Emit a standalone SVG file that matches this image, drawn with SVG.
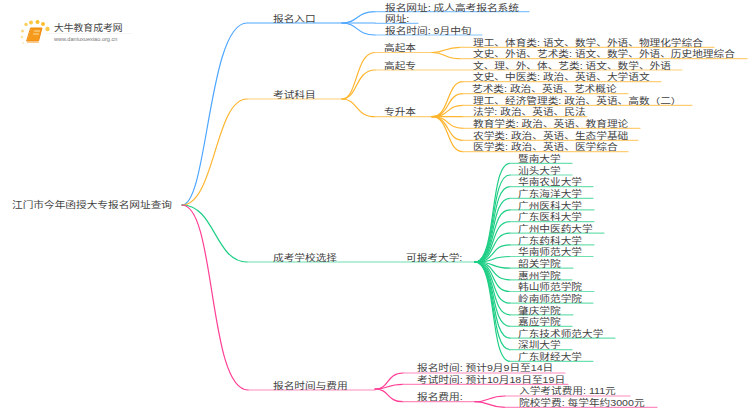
<svg xmlns="http://www.w3.org/2000/svg" width="750" height="410" viewBox="0 0 750 410">
<style>
text{font-family:"Liberation Sans","Noto Sans CJK SC",sans-serif;font-size:10.67px;fill:#3f3f3f}
path{fill:none;stroke-linecap:round;stroke-width:1.2}
.b{stroke:#4da6ff}.bl{stroke:#86c3ff}
.o{stroke:#ffb52e}.ol{stroke:#ffcf78}
.g{stroke:#1fcf86}.gl{stroke:#6fe0b0}
.p{stroke:#ff3e96}.pl{stroke:#ff8cbf}
</style>
<g id="logo">
<circle cx="23" cy="43" r="1" fill="#fdeac0"/><circle cx="22" cy="37" r="1.3" fill="#fde3a0"/><circle cx="22.500" cy="31" r="1.500" fill="#fcd77f"/><circle cx="26" cy="24.500" r="1.700" fill="#fbcf60"/><circle cx="31" cy="22.500" r="2" fill="#fbc94a"/><circle cx="37.500" cy="22" r="2" fill="#fbc02d"/><circle cx="43" cy="24" r="2" fill="#fbc02d"/><circle cx="47.500" cy="29" r="2.200" fill="#fbc94a"/>
<path d="M31,28 H42 L38.500,41 H27 Z" style="fill:#f59a1b;stroke:#f08a10;stroke-width:1"/>
<path d="M34.500,31 H39.500 M33.500,34 H38.500" style="stroke:#fde0a8;stroke-width:1"/>
<path d="M27.500,42.500 H38.500" style="stroke:#fbc98a;stroke-width:1"/>
<text transform="translate(54,31) scale(1,.9)" style="font-size:9.800px;fill:#444">大牛教育成考网</text>
<path d="M46,33.500 H132" style="stroke:#eeeeee;stroke-width:.6"/>
<text transform="translate(54,41)" style="font-size:5.600px;fill:#777">www.daniuxuexiao.org.cn</text>
</g>
<g id="connectors">
<path class="b" d="M182,205 C208,205 208,23 247,23 H342"/>
<path class="o" d="M182,205 C215,205 215,99 247,99"/><path class="ol" d="M247,99 H342"/>
<path class="g" d="M182,205 C215,205 215,262 247,262"/><path class="gl" d="M247,262 H475"/>
<path class="p" d="M182,205 C216,205 208,390 248,390"/><path class="pl" d="M248,390 H375"/>
<path class="b" d="M342,23 C358,23 356,11.700 375,11.700"/><path class="bl" d="M375,11.700 H529"/>
<path class="b" d="M342,23 H375"/><path class="bl" d="M375,23.300 H418"/>
<path class="b" d="M342,23 C358,23 356,35 375,35"/><path class="bl" d="M375,35 H482"/>
<path class="o" d="M342,99 C358,99 355,52.500 375,52.500"/><path class="ol" d="M375,52.500 H432"/>
<path class="o" d="M342,99 C358,99 355,70 375,70"/><path class="ol" d="M375,70 H682"/>
<path class="o" d="M342,99 C358,99 355,116.700 375,116.700"/><path class="ol" d="M375,116.700 H432"/>
<path class="o" d="M432,52.500 C446,52.500 444,47.300 460,47.300"/><path class="ol" d="M460,47.300 H714"/>
<path class="o" d="M432,52.500 C446,52.500 444,58.700 460,58.700"/><path class="ol" d="M460,58.700 H747"/>
<path class="o" d="M432,116.700 C450,116.700 446,81.700 463,81.700"/><path class="ol" d="M463,81.700 H661"/>
<path class="o" d="M432,116.700 C450,116.700 446,93.700 463,93.700"/><path class="ol" d="M463,93.700 H628"/>
<path class="o" d="M432,116.700 C450,116.700 446,105.300 463,105.300"/><path class="ol" d="M463,105.300 H692"/>
<path class="o" d="M432,116.700 H463"/><path class="ol" d="M463,116.700 H587"/>
<path class="o" d="M432,116.700 C450,116.700 446,128.300 463,128.300"/><path class="ol" d="M463,128.300 H640"/>
<path class="o" d="M432,116.700 C450,116.700 446,140.300 463,140.300"/><path class="ol" d="M463,140.300 H638"/>
<path class="o" d="M432,116.700 C450,116.700 446,151.700 463,151.700"/><path class="ol" d="M463,151.700 H628"/>
<path class="g" d="M475,262 C497,262 489,163.300 510,163.300"/><path class="gl" d="M510,163.300 H572"/>
<path class="g" d="M475,262 C497,262 489,175 510,175"/><path class="gl" d="M510,175 H572"/>
<path class="g" d="M475,262 C497,262 489,186.600 510,186.600"/><path class="gl" d="M510,186.600 H593"/>
<path class="g" d="M475,262 C497,262 489,198.300 510,198.300"/><path class="gl" d="M510,198.300 H593"/>
<path class="g" d="M475,262 C497,262 489,209.900 510,209.900"/><path class="gl" d="M510,209.900 H594"/>
<path class="g" d="M475,262 C497,262 489,221.600 510,221.600"/><path class="gl" d="M510,221.600 H594"/>
<path class="g" d="M475,262 C497,262 489,233.200 510,233.200"/><path class="gl" d="M510,233.200 H604"/>
<path class="g" d="M475,262 C497,262 489,244.900 510,244.900"/><path class="gl" d="M510,244.900 H594"/>
<path class="g" d="M475,262 C497,262 489,256.500 510,256.500"/><path class="gl" d="M510,256.500 H593"/>
<path class="g" d="M475,262 C497,262 489,268.200 510,268.200"/><path class="gl" d="M510,268.200 H573"/>
<path class="g" d="M475,262 C497,262 489,279.800 510,279.800"/><path class="gl" d="M510,279.800 H572"/>
<path class="g" d="M475,262 C497,262 489,291.500 510,291.500"/><path class="gl" d="M510,291.500 H594"/>
<path class="g" d="M475,262 C497,262 489,303.100 510,303.100"/><path class="gl" d="M510,303.100 H593"/>
<path class="g" d="M475,262 C497,262 489,314.800 510,314.800"/><path class="gl" d="M510,314.800 H573"/>
<path class="g" d="M475,262 C497,262 489,326.400 510,326.400"/><path class="gl" d="M510,326.400 H572"/>
<path class="g" d="M475,262 C497,262 489,338.100 510,338.100"/><path class="gl" d="M510,338.100 H615"/>
<path class="g" d="M475,262 C497,262 489,349.700 510,349.700"/><path class="gl" d="M510,349.700 H572"/>
<path class="g" d="M475,262 C497,262 489,361.300 510,361.300"/><path class="gl" d="M510,361.300 H593"/>
<path class="p" d="M375,389 C390,389 386,373 403,373"/><path class="pl" d="M403,373 H565"/>
<path class="p" d="M375,389 C390,389 386,384.300 403,384.300"/><path class="pl" d="M403,384.300 H568"/>
<path class="p" d="M375,389 C390,389 386,401.700 403,401.700"/><path class="pl" d="M403,401.700 H475"/>
<path class="p" d="M475,401.700 C490,401.700 488,396 505,396"/><path class="pl" d="M505,396 H630"/>
<path class="p" d="M475,401.700 C490,401.700 488,407.300 505,407.300"/><path class="pl" d="M505,407.300 H657"/>
</g>
<g id="root"><text transform="translate(12,208) scale(1,.8)">江门市今年函授大专报名网址查询</text></g>
<g id="n1"><text transform="translate(273,22) scale(1,.8)">报名入口</text></g>
<g id="n1a"><text transform="translate(385,10.500) scale(1,.8)">报名网址: 成人高考报名系统</text></g>
<g id="n1b"><text transform="translate(385,22) scale(1,.8)">网址:</text></g>
<g id="n1c"><text transform="translate(385,33.700) scale(1,.8)">报名时间: 9月中旬</text></g>
<g id="n2"><text transform="translate(273,97.500) scale(1,.8)">考试科目</text></g>
<g id="n2a"><text transform="translate(384,51) scale(1,.8)">高起本</text></g>
<g id="n2a1"><text transform="translate(473,46) scale(1,.8)">理工、体育类: 语文、数学、外语、物理化学综合</text></g>
<g id="n2a2"><text transform="translate(473,57.400) scale(1,.8)">文史、外语、艺术类: 语文、数学、外语、历史地理综合</text></g>
<g id="n2b"><text transform="translate(384,68.700) scale(1,.8)">高起专</text></g>
<g id="n2b1"><text transform="translate(473,68.700) scale(1,.8)">文、理、外、体、艺类: 语文、数学、外语</text></g>
<g id="n2c"><text transform="translate(384,115.400) scale(1,.8)">专升本</text></g>
<g id="n2c1"><text transform="translate(473,80.400) scale(1,.8)">文史、中医类: 政治、英语、大学语文</text></g>
<g id="n2c2"><text transform="translate(472,92.400) scale(1,.8)">艺术类: 政治、英语、艺术概论</text></g>
<g id="n2c3"><text transform="translate(473,104) scale(1,.8)">理工、经济管理类: 政治、英语、高数（二）</text></g>
<g id="n2c4"><text transform="translate(473,115.400) scale(1,.8)">法学: 政治、英语、民法</text></g>
<g id="n2c5"><text transform="translate(473,127) scale(1,.8)">教育学类: 政治、英语、教育理论</text></g>
<g id="n2c6"><text transform="translate(473,139) scale(1,.8)">农学类: 政治、英语、生态学基础</text></g>
<g id="n2c7"><text transform="translate(473,150.400) scale(1,.8)">医学类: 政治、英语、医学综合</text></g>
<g id="n3"><text transform="translate(273,260.500) scale(1,.8)">成考学校选择</text></g>
<g id="n3a"><text transform="translate(406,260.500) scale(1,.8)">可报考大学:</text></g>
<g id="s1"><text transform="translate(518,162) scale(1,.8)">暨南大学</text></g>
<g id="s2"><text transform="translate(518,173.700) scale(1,.8)">汕头大学</text></g>
<g id="s3"><text transform="translate(518,185.300) scale(1,.8)">华南农业大学</text></g>
<g id="s4"><text transform="translate(518,197) scale(1,.8)">广东海洋大学</text></g>
<g id="s5"><text transform="translate(518,208.600) scale(1,.8)">广州医科大学</text></g>
<g id="s6"><text transform="translate(518,220.300) scale(1,.8)">广东医科大学</text></g>
<g id="s7"><text transform="translate(518,231.900) scale(1,.8)">广州中医药大学</text></g>
<g id="s8"><text transform="translate(518,243.600) scale(1,.8)">广东药科大学</text></g>
<g id="s9"><text transform="translate(518,255.200) scale(1,.8)">华南师范大学</text></g>
<g id="s10"><text transform="translate(518,266.900) scale(1,.8)">韶关学院</text></g>
<g id="s11"><text transform="translate(518,278.500) scale(1,.8)">惠州学院</text></g>
<g id="s12"><text transform="translate(518,290.200) scale(1,.8)">韩山师范学院</text></g>
<g id="s13"><text transform="translate(518,301.800) scale(1,.8)">岭南师范学院</text></g>
<g id="s14"><text transform="translate(518,313.500) scale(1,.8)">肇庆学院</text></g>
<g id="s15"><text transform="translate(518,325.100) scale(1,.8)">嘉应学院</text></g>
<g id="s16"><text transform="translate(518,336.800) scale(1,.8)">广东技术师范大学</text></g>
<g id="s17"><text transform="translate(518,348.400) scale(1,.8)">深圳大学</text></g>
<g id="s18"><text transform="translate(518,360) scale(1,.8)">广东财经大学</text></g>
<g id="n4"><text transform="translate(273,388.500) scale(1,.8)">报名时间与费用</text></g>
<g id="n4a"><text transform="translate(417,371) scale(1,.8)">报名时间: 预计9月9日至14日</text></g>
<g id="n4b"><text transform="translate(417,383) scale(1,.8)">考试时间: 预计10月18日至19日</text></g>
<g id="n4c"><text transform="translate(417,400.200) scale(1,.8)">报名费用:</text></g>
<g id="n4c1"><text transform="translate(519,394.300) scale(1,.8)">入学考试费用: 111元</text></g>
<g id="n4c2"><text transform="translate(519,406) scale(1,.8)">院校学费: 每学年约3000元</text></g>
</svg>
